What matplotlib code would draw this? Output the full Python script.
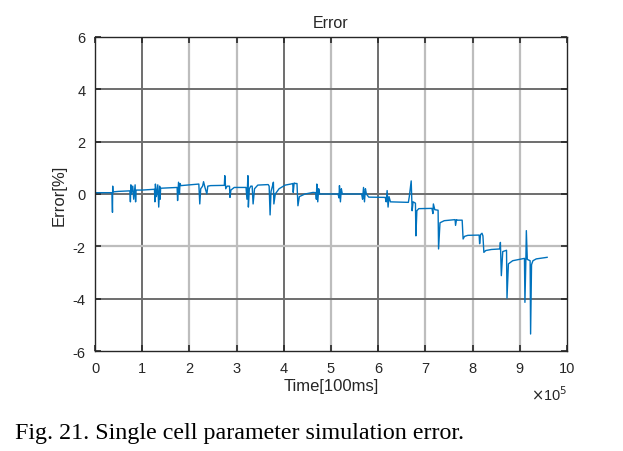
import numpy as np
import matplotlib
matplotlib.use("Agg")
import matplotlib.pyplot as plt

# time in units of 1e5 x 100ms, error in %
time_e5 = [0.0, 0.36, 0.37, 0.375, 0.38, 0.5, 0.74, 0.75, 0.76, 0.77, 0.8, 0.82, 0.85, 0.86, 0.87, 1.0,
           1.26, 1.27, 1.28, 1.3, 1.33, 1.35, 1.37, 1.38, 1.39, 1.74, 1.75, 1.77, 1.79, 1.8, 1.82,
           2.2, 2.22, 2.24, 2.28, 2.3, 2.33, 2.37, 2.39, 2.45, 2.74, 2.75, 2.77, 2.8, 2.85, 2.86, 2.88, 2.95,
           3.2, 3.22, 3.24, 3.25, 3.27, 3.3, 3.33, 3.35, 3.38, 3.45, 3.67, 3.69, 3.71, 3.73, 3.76, 3.78, 3.79,
           3.82, 3.9, 4.03, 4.15, 4.19, 4.2, 4.22, 4.25, 4.28, 4.3, 4.33, 4.45, 4.62, 4.68, 4.69, 4.7, 4.72,
           4.74, 4.76, 5.15, 5.17, 5.18, 5.2, 5.22, 5.24, 5.65, 5.67, 5.69, 5.71, 5.73, 5.75, 5.8, 6.15,
           6.17, 6.19, 6.21, 6.23, 6.26, 6.64, 6.66, 6.7, 6.72, 6.74, 6.79, 6.80, 6.82, 6.86, 7.14, 7.16,
           7.17, 7.2, 7.27, 7.28, 7.31, 7.4, 7.63, 7.64, 7.66, 7.68, 7.78, 7.80, 7.83, 7.9, 8.14, 8.15, 8.17,
           8.2, 8.22, 8.24, 8.28, 8.4, 8.58, 8.59, 8.61, 8.64, 8.72, 8.73, 8.76, 8.85, 9.1, 9.11, 9.13,
           9.14, 9.16, 9.22, 9.23, 9.25, 9.28, 9.35, 9.58]
error_pct = [0.05, 0.05, -0.7, 0.3, 0.08, 0.1, 0.12, -0.3, 0.35, 0.0, 0.3, -0.2, 0.35, -0.3, 0.15, 0.15,
             0.18, -0.3, 0.38, -0.1, 0.35, -0.5, 0.3, -0.2, 0.22, 0.25, -0.25, 0.45, 0.0, 0.4, 0.32,
             0.38, -0.38, 0.2, 0.3, 0.47, 0.25, 0.0, 0.3, 0.32, 0.33, 0.7, 0.2, 0.3, 0.3, -0.13, 0.15, 0.25,
             0.25, -0.2, 0.7, -0.5, 0.2, 0.3, 0.3, -0.38, 0.2, 0.34, 0.36, 0.3, -0.8, 0.1, 0.3, 0.45, -0.38,
             0.0, 0.2, 0.34, 0.38, 0.4, 0.06, 0.42, 0.4, 0.4, -0.45, -0.1, 0.0, 0.06, 0.05, -0.2, 0.38, -0.3,
             0.2, 0.0, 0.0, -0.15, 0.32, -0.3, 0.2, 0.0, 0.0, -0.2, 0.25, -0.3, 0.2, 0.0, -0.12, -0.13,
             -0.3, 0.13, -0.5, -0.1, -0.3, -0.32, -0.1, 0.5, -0.64, -0.3, -0.35, -1.6, -0.64, -0.56, -0.55, -0.75,
             -0.38, -0.6, -0.62, -2.1, -1.1, -1.02, -0.98, -1.2, -0.98, -1.0, -1.0, -1.72, -1.62, -1.58, -1.57, -1.9, -1.55,
             -1.5, -1.6, -2.23, -2.16, -2.12, -2.1, -1.85, -3.12, -2.2, -2.15, -3.98, -2.67, -2.55, -2.46, -4.14, -2.5,
             -1.4, -2.5, -2.55, -5.35, -2.7, -2.55, -2.48, -2.42]

xticks = list(range(0, 11))
yticks = [-6, -4, -2, 0, 2, 4, 6]
dark, light = "#6e6e6e", "#bdbdbd"
xgrid_colors = {1: dark, 2: light, 3: light, 4: dark, 5: light, 6: dark, 7: light, 8: light, 9: light}
ygrid_colors = {4: dark, 2: dark, 0: dark, -2: light, -4: dark}

plt.rcParams['font.family'] = ['Liberation Sans', 'DejaVu Sans']

fig = plt.figure(figsize=(6.23, 4.52), dpi=100)
ax = fig.add_axes([0.1525, 0.2212, 0.7575, 0.6948])

for xv, c in xgrid_colors.items():
    ax.axvline(xv * 1e5, color=c, lw=1.6 if c == light else 1.4, zorder=0)
for yv, c in ygrid_colors.items():
    ax.axhline(yv, color=c, lw=1.6 if c == light else 1.4, zorder=0)

ax.plot(np.array(time_e5) * 1e5, error_pct, color="#0072BD", lw=1.0, zorder=2)

ax.set_xlim(0, 10e5)
ax.set_ylim(-6, 6)
ax.set_xticks([t * 1e5 for t in xticks])
ax.set_xticklabels([str(t) for t in xticks])
ax.set_yticks(yticks)
ax.set_yticklabels([str(t) for t in yticks])
ax.tick_params(direction="in", length=4, width=1.2, top=True, right=True,
               labelsize=10.5, colors="#262626", pad=7)
for s in ax.spines.values():
    s.set_color("#262626")
    s.set_linewidth(1.0)

ax.set_title("Error", fontsize=11.5, color="#262626", pad=7)
ax.set_xlabel("Time[100ms]", fontsize=12, color="#262626", labelpad=2)
ax.set_ylabel("Error[%]", fontsize=12, color="#262626", labelpad=4)
fig.text(0.852, 0.112, r"$\times$10$^5$", fontsize=10.5, color="#262626")

fig.text(0.024, 0.029, "Fig. 21. Single cell parameter simulation error.",
         fontsize=17.3, family="Liberation Serif", color="black")

fig.savefig("out.png", dpi=100)
